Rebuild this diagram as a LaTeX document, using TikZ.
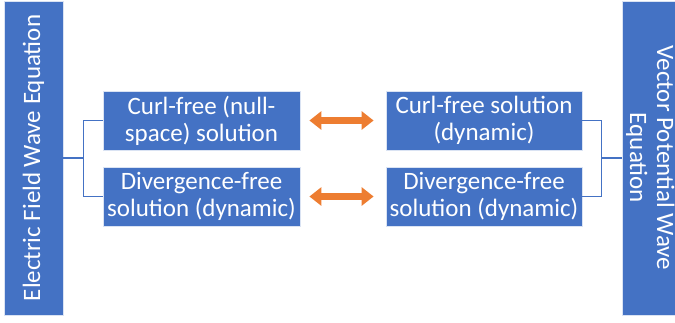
\documentclass[tikz,border=0pt]{standalone}
\usepackage{fontspec}
\setmainfont{Carlito}
\usetikzlibrary{arrows.meta}

\definecolor{boxblue}{HTML}{4472C4}
\definecolor{arroworange}{HTML}{ED7D31}

\tikzset{
	solbox/.style={fill=boxblue, draw=white!80!boxblue, line width=0.8pt, text=white,
		align=center, inner sep=0pt, font=\fontsize{25}{27}\selectfont},
	branch/.style={draw=boxblue, line width=1.2pt},
	pairarrow/.style={arroworange, line width=7pt,
		{Triangle[width=18pt,length=12pt]}-{Triangle[width=18pt,length=12pt]}}
}

\begin{document}
\begin{tikzpicture}[x=1pt, y=-1pt]
	\useasboundingbox (0,0) rectangle (675,322);

	% The equations
	\node[solbox, minimum width=59pt, minimum height=314pt] (efield) at (33.5,158)
		{\rotatebox{90}{Electric Field Wave Equation}};
	\node[solbox, minimum width=54pt, minimum height=314pt] (vpot) at (649,158)
		{\rotatebox{-90}{\begin{tabular}{@{}c@{}}Vector Potential Wave\\Equation\end{tabular}}};

	% The solutions
	\node[solbox, minimum width=197pt, minimum height=59pt] (curlE) at (201.5,120.5)
		{Curl-free (null-\\space) solution};
	\node[solbox, minimum width=197pt, minimum height=59pt] (divE) at (201.5,196.5)
		{Divergence-free\\solution (dynamic)};
	\node[solbox, minimum width=196pt, minimum height=59pt] (curlA) at (484,120.5)
		{Curl-free solution\\(dynamic)};
	\node[solbox, minimum width=196pt, minimum height=59pt] (divA) at (484,196.5)
		{Divergence-free\\solution (dynamic)};

	% Brackets
	\draw[branch] (efield.east) -- ++(20,0) coordinate (ejoin);
	\draw[branch] (curlE.west) -| (ejoin) |- (divE.west);
	\draw[branch] (vpot.west) -- ++(-20,0) coordinate (ajoin);
	\draw[branch] (curlA.east) -| (ajoin) |- (divA.east);

	% Arrows between the two sides
	\draw[pairarrow, shorten <=9pt, shorten >=12pt] (curlE.east) -- (curlA.west);
	\draw[pairarrow, shorten <=9pt, shorten >=12pt] (divE.east) -- (divA.west);

\end{tikzpicture}
\end{document}
